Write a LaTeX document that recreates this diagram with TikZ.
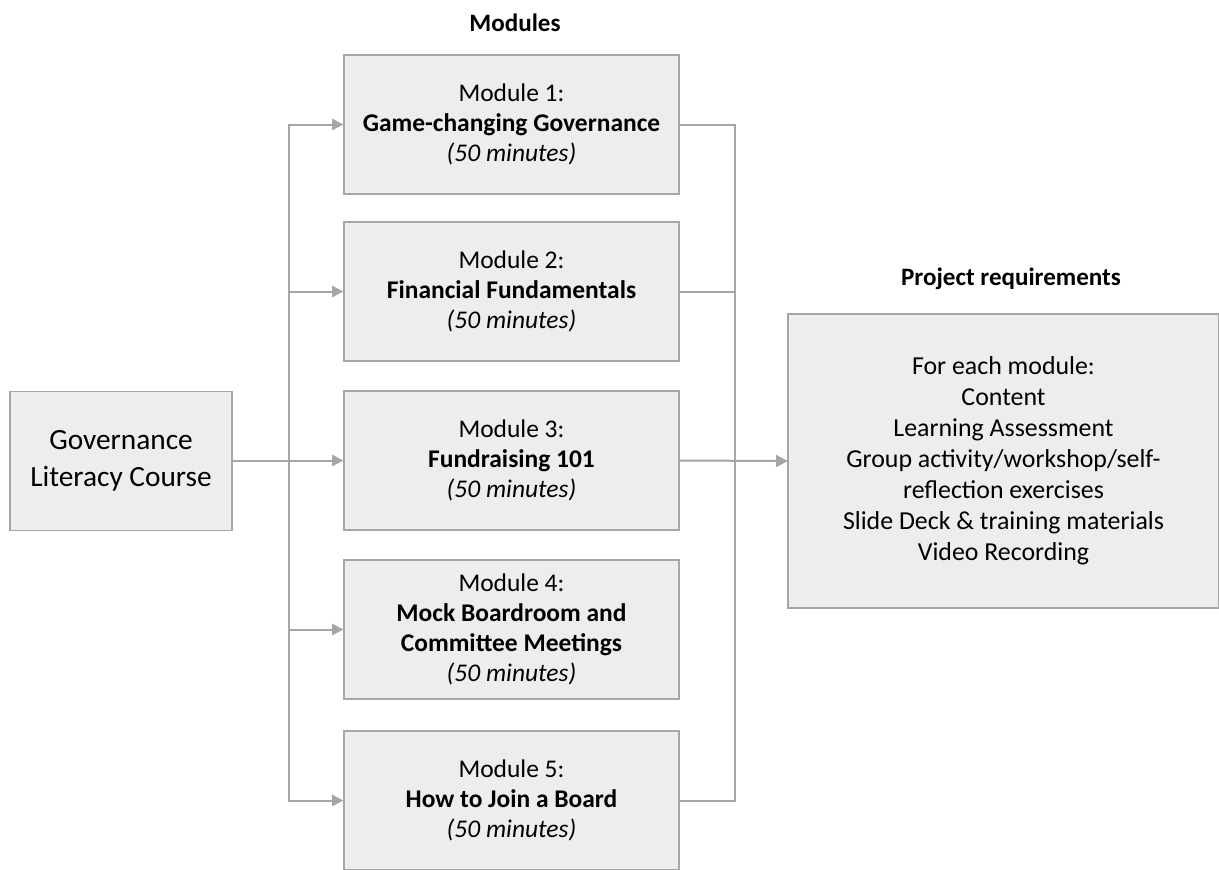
\documentclass[tikz,border=0pt]{standalone}
\usepackage{fontspec}
\setmainfont{Carlito}
\usetikzlibrary{arrows.meta}
\definecolor{boxfill}{HTML}{EDEDED}
\definecolor{boxline}{HTML}{A6A6A6}
\definecolor{linkgray}{HTML}{A5A5A5}

\begin{document}
\begin{tikzpicture}[x=0.75pt,y=-0.75pt,
	box/.style={draw=boxline,fill=boxfill,line width=1pt,align=center,inner sep=0pt},
	modbox/.style={box,minimum width=251.25pt,minimum height=104.25pt,execute at begin node=\rule{0pt}{17.5pt},font=\fontsize{19.1}{22.5}\selectfont},
	title/.style={font=\fontsize{18.8}{22.5}\selectfont\bfseries},
	link/.style={draw=linkgray,line width=1.5pt},
	tip/.style={link,-{Triangle[length=8.5pt,width=8.5pt]}}]
	\useasboundingbox (0,0) rectangle (1219,869);

	% course and the five modules
	\node[box,minimum width=166.5pt,minimum height=104.25pt,execute at begin node=\rule{0pt}{21pt},font=\fontsize{22}{28}\selectfont] (course) at (121,461) {Governance\\Literacy Course};
	\node[modbox] (m1) at (511.5,124.5) {Module 1:\\\textbf{Game-changing Governance}\\\textit{(50 minutes)}};
	\node[modbox] (m2) at (511.5,291.5) {Module 2:\\\textbf{Financial Fundamentals}\\\textit{(50 minutes)}};
	\node[modbox] (m3) at (511.5,460.5) {Module 3:\\\textbf{Fundraising 101}\\\textit{(50 minutes)}};
	\node[modbox] (m4) at (511.5,629.5) {Module 4:\\\textbf{Mock Boardroom and}\\\textbf{Committee Meetings}\\\textit{(50 minutes)}};
	\node[modbox] (m5) at (511.5,800.5) {Module 5:\\\textbf{How to Join a Board}\\\textit{(50 minutes)}};

	% requirements box
	\node[box,minimum width=323.25pt,minimum height=220.5pt,execute at begin node=\rule{0pt}{17pt},font=\fontsize{19.4}{23.25}\selectfont] (req) at (1003.5,461) {For each module:\\Content\\Learning Assessment\\Group activity/workshop/self-\\reflection exercises\\Slide Deck \& training materials\\Video Recording};

	\node[title] (modtitle) at (515,23) {Modules};
	\node[title] (reqtitle) at (1011,279) {Project requirements};

	% course to modules
	\draw[tip] (course.east) -- ++(56,0) |- (m1.west);
	\draw[tip] (course.east) -- ++(56,0) |- (m2.west);
	\draw[tip] (course.east) -- ++(56,0) |- (m3.west);
	\draw[tip] (course.east) -- ++(56,0) |- (m4.west);
	\draw[tip] (course.east) -- ++(56,0) |- (m5.west);

	% modules to requirements
	\draw[tip] (m1.east) -- ++(55,0) |- (req.west);
	\draw[tip] (m2.east) -- ++(55,0) |- (req.west);
	\draw[tip] (m3.east) -- (req.west);
	\draw[tip] (m5.east) -- ++(55,0) |- (req.west);
\end{tikzpicture}
\end{document}
